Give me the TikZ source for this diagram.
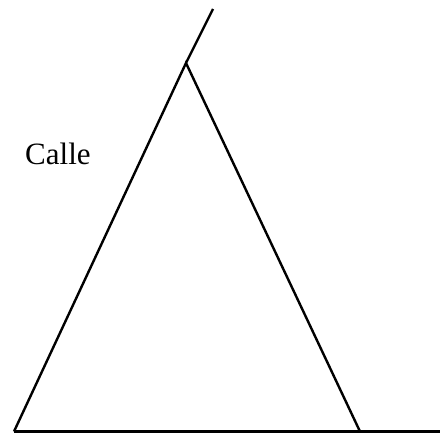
\documentclass[tikz,border=0pt]{standalone}
\usepackage{fontspec}
\setmainfont{Liberation Serif}
\begin{document}
\begin{tikzpicture}[x=1pt, y=1pt, line width=2.4pt]

% --- Рамка рисунка ---
\useasboundingbox (0,0) rectangle (440,433);

% --- Вершины треугольника ---
\coordinate (izq)   at (14,1.5);
\coordinate (der)   at (360,1.5);
\coordinate (cima)  at (186,370);
\coordinate (fin)   at (440,1.5);
\coordinate (punta) at (213,424);

% --- Стороны ---
\draw (izq) -- (cima) -- (der);
\draw (izq) -- (der) -- (fin);
\draw (cima) -- (punta);

% --- Подпись ---
\node[anchor=base west, inner sep=0pt, font=\fontsize{31}{31}\selectfont]
  (calle) at (24,268) {Calle};

\end{tikzpicture}
\end{document}
